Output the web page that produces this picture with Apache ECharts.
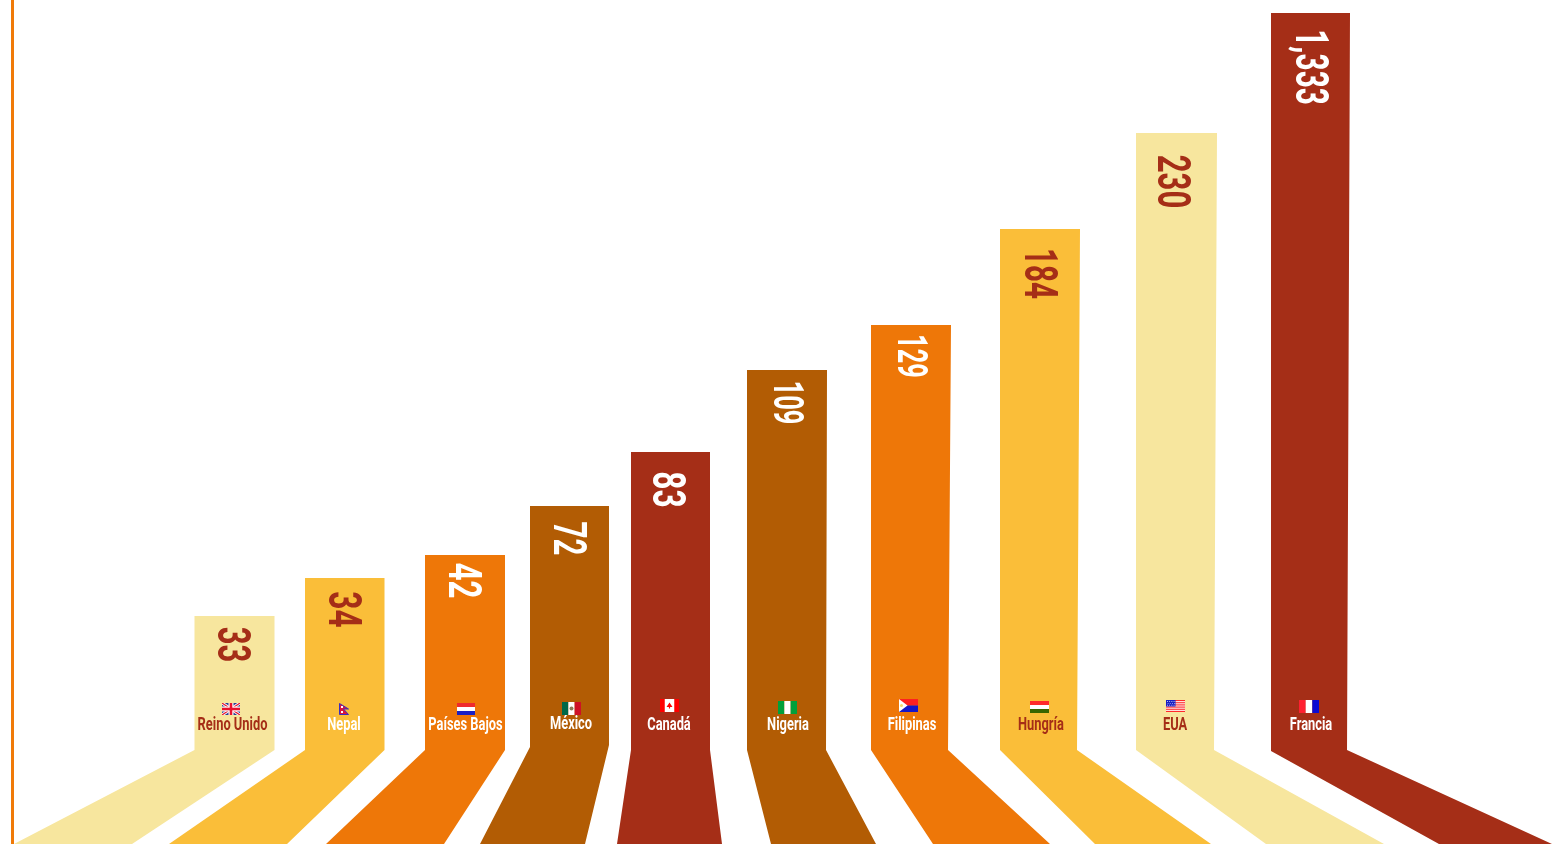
<!DOCTYPE html>
<html><head><meta charset="utf-8">
<style>html,body{margin:0;padding:0;background:#fff}#c{width:1552px;height:844px}</style>
<script src="https://cdn.jsdelivr.net/npm/echarts@6/dist/echarts.min.js"></script>
</head><body><div id="c"></div>
<script>
// ---- data ----
const categories = ['Reino Unido','Nepal','Países Bajos','México','Canadá','Nigeria','Filipinas','Hungría','EUA','Francia'];
const values = [33,34,42,72,83,109,129,184,230,1333];
// drawn bar height in axis units (the picture's column heights are not proportional to the values)
const columnHeights = [228,266,289,338,392,474,519,615,711,831];
// where each column and its splayed foot sit on the x axis
const columnLeft = [194.5,305,425,530,631,747,871,1000,1136,1271];
const footLeft   = [14,169,326,480,617,771,933,1095,1266,1439];
const flagCodes  = ['uk','np','nl','mx','ca','ng','ph','hu','us','fr'];

// ---- layout / style ----
const columnWidth = [80,79.5,80,79,79,80,80,80,81,79];
const kneeWidth   = [80,79.5,80,79,79,79,77,77,78,76];
const footWidth   = [118,118,118,105,105,105,117,116,118,113];
const kneeLeftH   = [94,94,94,97,94,94,94,94,94,93];
const kneeRightH  = [94,94,94,99,94,94,94,94,94,94];
const valueDrop   = [28.5,31.5,25.5,32.5,37.5,32.5,31,44.5,48.5,54];
const valueX      = [229.5,340.5,460,565,664,784.5,908,1036.5,1169,1307.5];
const valueSize   = [46,46,46,46,46,42,42,46,46,46];
const valueScale  = [.676,.69,.676,.64,.69,.605,.6,.642,.676,.646];
const nameX       = [232.5,344,465.5,571,669,788,912,1041,1175,1311];
const nameH       = [119,119,119,120,119,119,119,119,119,119];
const flagBox     = [[222,141,18,12],[339,141,10,12],[457,141,18,12],[562,142,19,13],[660,145,19,13],[778,143,19,13],[899,145,19,13],[1030,143,19,12],[1166,144,19,12],[1299,144,20,13]];
const PALE='#F7E69E',AMBER='#FABE39',ORANGE='#EE7708',BROWN='#B25C04',RUST='#A52E17';
const fillColors = [PALE,AMBER,ORANGE,BROWN,RUST,BROWN,ORANGE,AMBER,PALE,RUST];
const valueColors = [RUST,RUST,'#fff','#fff','#fff','#fff','#fff',RUST,RUST,'#fff'];
const nameColors = [RUST,'#fff','#fff','#fff','#fff','#fff','#fff',RUST,RUST,'#fff'];

function r(x,y,w,h,fill){return {type:'rect',shape:{x,y,width:w,height:h},style:{fill}};}
function p(points,fill,stroke,lw){return {type:'polygon',shape:{points},style:{fill,stroke:stroke||null,lineWidth:lw||0}};}
function l(x1,y1,x2,y2,stroke,lw){return {type:'line',shape:{x1,y1,x2,y2},style:{stroke,lineWidth:lw}};}
function flagParts(code,w,h){
  switch(code){
    case 'uk': return [r(0,0,w,h,'#2A3F8F'),l(0,0,w,h,'#fff',3),l(w,0,0,h,'#fff',3),l(0,0,w,h,'#E8112D',1.2),l(w,0,0,h,'#E8112D',1.2),r(w/2-2.5,0,5,h,'#fff'),r(0,h/2-2.5,w,5,'#fff'),r(w/2-1.3,0,2.6,h,'#E8112D'),r(0,h/2-1.3,w,2.6,'#E8112D')];
    case 'np': return [p([[.5,.5],[w-.5,h*.5],[w*.45,h*.5],[w-.5,h-.5],[.5,h-.5]],'#DC143C','#3B2CC0',1),r(2,3,2,2,'#fff'),r(2,8,2,2,'#fff')];
    case 'nl': return [r(0,0,w,h/3,'#EF2B2D'),r(0,h/3,w,h/3,'#fff'),r(0,2*h/3,w,h/3,'#1A1FC4')];
    case 'mx': return [r(0,0,w/3,h,'#006847'),r(w/3,0,w/3,h,'#fff'),r(2*w/3,0,w/3,h,'#CE1126'),{type:'circle',shape:{cx:w/2,cy:h/2,r:2},style:{fill:'#8C7A55'}}];
    case 'ca': return [r(0,0,w,h,'#fff'),r(0,0,w/4,h,'#FF0000'),r(3*w/4,0,w/4,h,'#FF0000'),p([[w/2,h/2-3],[w/2+3,h/2+1.5],[w/2+.6,h/2+1.5],[w/2+.6,h/2+3],[w/2-.6,h/2+3],[w/2-.6,h/2+1.5],[w/2-3,h/2+1.5]],'#FF0000')];
    case 'ng': return [r(0,0,w/3,h,'#00A03A'),r(w/3,0,w/3,h,'#fff'),r(2*w/3,0,w/3,h,'#00A03A')];
    case 'ph': return [r(0,0,w,h/2,'#FF2020'),r(0,h/2,w,h/2,'#1515C8'),p([[0,0],[w*.45,h/2],[0,h]],'#fff'),{type:'circle',shape:{cx:w*.13,cy:h/2,r:1.5},style:{fill:'#F5D76E'}}];
    case 'hu': return [r(0,0,w,h/3,'#FF2A2A'),r(0,h/3,w,h/3,'#fff'),r(0,2*h/3,w,h/3,'#386600')];
    case 'us': {
      const out=[r(0,0,w,h,'#fff')];
      for(let i=0;i<7;i++) out.push(r(0,i*h/6.5,w,h/13,'#FF1A1A'));
      out.push(r(0,0,w*.5,h*.54,'#1A1FC4'));
      for(let a=0;a<4;a++) for(let b=0;b<3;b++) out.push(r(1+a*2.2+(b%2)*.6,1+b*1.9,.9,.9,'#C8CCF5'));
      return out;
    }
    case 'fr': return [r(0,0,w/3,h,'#FF2030'),r(w/3,0,w/3,h,'#fff'),r(2*w/3,0,w/3,h,'#0A0AD2')];
  }
  return [];
}

const rows = categories.map((c,i)=>[columnLeft[i],columnHeights[i],footLeft[i]]);

function renderItem(params,api){
  const i=params.dataIndex;
  const cl=api.value(0),h=api.value(1),fl=api.value(2);
  const pts=[
    [cl,h],[cl+columnWidth[i],h],
    [cl+kneeWidth[i],kneeRightH[i]],[fl+footWidth[i],0],[fl,0],[cl,kneeLeftH[i]]
  ].map(q=>api.coord(q));
  const vp=api.coord([valueX[i],h-valueDrop[i]]);
  const np=api.coord([nameX[i],nameH[i]]);
  const fb=flagBox[i],fp=api.coord([fb[0],fb[1]]);
  return {type:'group',children:[
    {type:'polygon',shape:{points:pts},style:{fill:fillColors[i]}},
    {type:'text',x:vp[0],y:vp[1],rotation:-Math.PI/2,scaleX:valueScale[i],
      style:{text:values[i].toLocaleString('en-US'),fill:valueColors[i],align:'center',verticalAlign:'middle',
        font:'700 '+valueSize[i]+'px Roboto'}},
    {type:'text',x:np[0],y:np[1],scaleX:0.695,
      style:{text:categories[i],fill:nameColors[i],align:'center',verticalAlign:'middle',font:'700 18.5px Roboto'}},
    {type:'group',x:fp[0],y:fp[1],children:[
      {type:'group',clipPath:{type:'rect',shape:{x:0,y:0,width:fb[2],height:fb[3]}},
       children:flagParts(flagCodes[i],fb[2],fb[3])}
    ]}
  ]};
}

const chart=echarts.init(document.getElementById('c'),null,{renderer:'canvas'});
chart.setOption({
  animation:false,
  backgroundColor:'#fff',
  grid:{left:12.5,right:0,top:0,bottom:0},
  xAxis:{type:'value',min:12.5,max:1552,show:false},
  yAxis:{type:'value',min:0,max:844,splitLine:{show:false},axisTick:{show:false},axisLabel:{show:false},
    axisLine:{show:true,lineStyle:{color:'#F07A08',width:3}}},
  series:[{type:'custom',silent:true,clip:false,renderItem,data:rows,encode:{x:[0,2],y:1}}]
});
</script></body></html>
